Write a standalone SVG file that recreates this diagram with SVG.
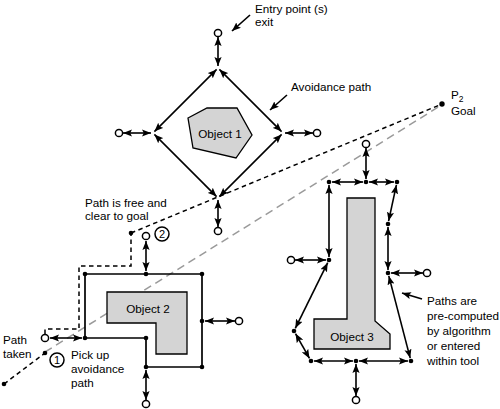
<svg xmlns="http://www.w3.org/2000/svg" width="500" height="409" viewBox="0 0 500 409">
<style>
text{font-family:"Liberation Sans",Arial,sans-serif;font-size:11.7px;fill:#000}
.a{stroke:#000;stroke-width:1.6;fill:none;marker-start:url(#ah);marker-end:url(#ah)}
.s{stroke:#000;stroke-width:1.6;fill:none;marker-end:url(#ah)}
.o{fill:#fff;stroke:#000;stroke-width:1.5}
.d{fill:#000}
.obj{fill:#d4d4d4;stroke:#000;stroke-width:1.3}
.ol{fill:none;stroke:#000;stroke-width:1.7}
.bd{fill:none;stroke:#000;stroke-width:1.5;stroke-dasharray:4.5,3.5}
.gd{fill:none;stroke:#9a9a9a;stroke-width:1.5;stroke-dasharray:8,5}
.c{text-anchor:middle}
</style>
<defs>
<marker id="ah" viewBox="0 0 10 8" refX="10" refY="4" markerWidth="9" markerHeight="7.2" markerUnits="userSpaceOnUse" orient="auto-start-reverse">
<path d="M0,0 L10,4 L0,8 L2,4 z" fill="#000"/>
</marker>
</defs>

<g id="paths-dashed">
<line class="gd" x1="45" y1="352" x2="440" y2="106"/>
<line class="bd" x1="4" y1="384" x2="45" y2="353"/>
<path class="bd" d="M45,334 L45,329 L79,329 L79,266 L131,266 L131,233"/>
<line class="bd" x1="131" y1="233" x2="442" y2="104"/>
<circle class="d" cx="4" cy="384" r="2.3"/>
<circle class="d" cx="45" cy="353" r="2.3"/>
<circle class="d" cx="131" cy="233" r="2.3"/>
<circle class="d" cx="442" cy="104" r="2.7"/>
</g>

<g id="object1">
<polygon class="obj" points="188,118 207,108 237,108 252,135 236,158 193,148"/>
<text class="c" x="220" y="138">Object 1</text>
</g>

<g id="object2">
<path class="obj" d="M107,292 L187,292 L187,354 L156,354 L156,323 L107,323 Z"/>
<text class="c" x="148" y="313">Object 2</text>
<path class="ol" d="M85,274 L202,274 L202,367 L146,367 L146,338 L85,338 Z"/>
<circle class="d" cx="85" cy="274" r="2.3"/>
<circle class="d" cx="146" cy="274" r="2.3"/>
<circle class="d" cx="202" cy="274" r="2.3"/>
<circle class="d" cx="202" cy="321" r="2.3"/>
<circle class="d" cx="202" cy="367" r="2.3"/>
<circle class="d" cx="146" cy="367" r="2.3"/>
<circle class="d" cx="146" cy="338" r="2.3"/>
<circle class="d" cx="85" cy="338" r="2.3"/>
</g>

<g id="object3">
<path class="obj" d="M347,198 L375,198 L375,321 L390,334 L390,349 L314,349 L314,319 L347,319 Z"/>
<text class="c" x="352" y="341">Object 3</text>
<circle class="d" cx="329" cy="182" r="2.3"/>
<circle class="d" cx="366" cy="182" r="2.3"/>
<circle class="d" cx="397" cy="182" r="2.3"/>
<circle class="d" cx="388" cy="224" r="2.3"/>
<circle class="d" cx="388" cy="273" r="2.3"/>
<circle class="d" cx="411" cy="361" r="2.3"/>
<circle class="d" cx="356" cy="361" r="2.3"/>
<circle class="d" cx="311" cy="361" r="2.3"/>
<circle class="d" cx="294" cy="331" r="2.3"/>
<circle class="d" cx="329" cy="260" r="2.3"/>
</g>

<g id="connectors">
<line class="a" x1="216.6" y1="69.4" x2="154.4" y2="131.6"/>
<line class="a" x1="219.4" y1="69.4" x2="281.6" y2="131.6"/>
<line class="a" x1="154.4" y1="134.4" x2="216.6" y2="196.6"/>
<line class="a" x1="281.6" y1="134.4" x2="219.4" y2="196.6"/>
<line class="a" x1="218" y1="66" x2="218" y2="37"/>
<line class="a" x1="151" y1="133" x2="123" y2="133"/>
<line class="a" x1="285" y1="133" x2="313" y2="133"/>
<line class="a" x1="218" y1="200" x2="218" y2="227"/>
<line class="a" x1="146" y1="241" x2="146" y2="271"/>
<line class="a" x1="50" y1="338" x2="82" y2="338"/>
<line class="a" x1="205" y1="321" x2="235" y2="321"/>
<line class="a" x1="146" y1="370" x2="146" y2="400"/>
<line class="a" x1="332" y1="182" x2="363" y2="182"/>
<line class="a" x1="369" y1="182" x2="394" y2="182"/>
<line class="a" x1="396.4" y1="184.9" x2="388.6" y2="221.1"/>
<line class="a" x1="388" y1="227" x2="388" y2="270"/>
<line class="a" x1="388.8" y1="275.9" x2="410.2" y2="358.1"/>
<line class="a" x1="408" y1="361" x2="359" y2="361"/>
<line class="a" x1="353" y1="361" x2="314" y2="361"/>
<line class="a" x1="309.5" y1="358.4" x2="295.5" y2="333.6"/>
<line class="a" x1="295.3" y1="328.3" x2="327.7" y2="262.7"/>
<line class="a" x1="329" y1="257" x2="329" y2="185"/>
<line class="a" x1="366" y1="148" x2="366" y2="179"/>
<line class="a" x1="295" y1="260" x2="326" y2="260"/>
<line class="a" x1="391" y1="273" x2="423" y2="273"/>
<line class="a" x1="356" y1="364" x2="356" y2="396"/>
<line class="s" x1="250" y1="15" x2="232" y2="31"/>
<line class="s" x1="287" y1="95" x2="270" y2="110"/>
<line class="s" x1="422" y1="299" x2="402" y2="293"/>
</g>

<g id="entry-points">
<circle class="o" cx="218" cy="33" r="3.6"/>
<circle class="o" cx="119" cy="133" r="3.6"/>
<circle class="o" cx="317" cy="133" r="3.6"/>
<circle class="o" cx="218" cy="231" r="3.6"/>
<circle class="o" cx="146" cy="236" r="3.6"/>
<circle class="o" cx="45" cy="338" r="3.6"/>
<circle class="o" cx="239" cy="321" r="3.6"/>
<circle class="o" cx="146" cy="404" r="3.6"/>
<circle class="o" cx="366" cy="144" r="3.6"/>
<circle class="o" cx="291" cy="260" r="3.6"/>
<circle class="o" cx="427" cy="273" r="3.6"/>
<circle class="o" cx="356" cy="400" r="3.6"/>
</g>

<g id="markers">
<circle class="o" cx="162" cy="234" r="7"/>
<text class="c" x="162" y="238.2" style="font-size:11px">2</text>
<circle class="o" cx="57" cy="360" r="7"/>
<text class="c" x="57" y="364.2" style="font-size:11px">1</text>
</g>

<g id="labels">
<text x="255" y="13">Entry point (s)</text>
<text x="255" y="26">exit</text>
<text x="291" y="91">Avoidance path</text>
<text x="451" y="99">P<tspan dy="3" style="font-size:8.5px">2</tspan></text>
<text x="451" y="115">Goal</text>
<text x="85" y="207">Path is free and</text>
<text x="85" y="220">clear to goal</text>
<text x="3" y="344">Path</text>
<text x="3" y="358">taken</text>
<text x="71" y="359">Pick up</text>
<text x="71" y="373">avoidance</text>
<text x="71" y="387">path</text>
<text x="427" y="305">Paths are</text>
<text x="427" y="320">pre-computed</text>
<text x="427" y="335">by algorithm</text>
<text x="427" y="350">or entered</text>
<text x="427" y="365">within tool</text>
</g>
</svg>
